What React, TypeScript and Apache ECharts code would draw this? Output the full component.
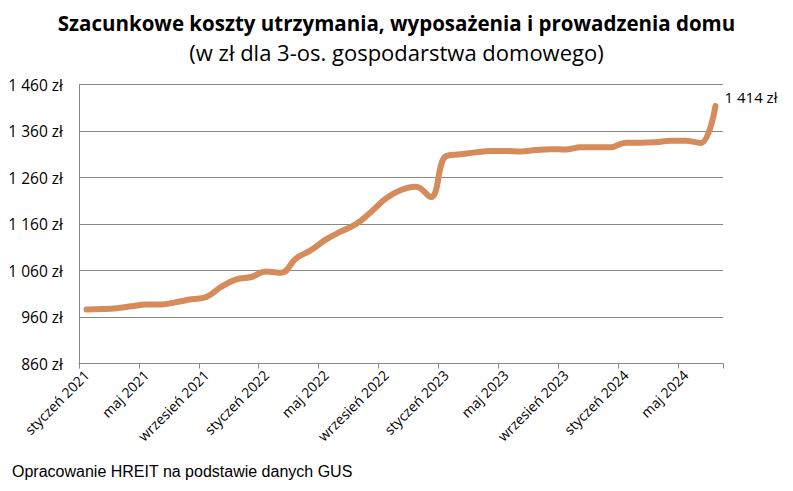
import React, { useEffect, useRef } from "react";
import * as echarts from "echarts";

const months = ["styczeń", "luty", "marzec", "kwiecień", "maj", "czerwiec", "lipiec", "sierpień", "wrzesień", "październik", "listopad", "grudzień"];
const categories: string[] = [];
for (let y = 2021; y <= 2024; y++) {
  for (let m = 0; m < 12; m++) {
    if (y === 2024 && m > 6) break;
    categories.push(`${months[m]} ${y}`);
  }
}

const costValues = [
  976, 977, 979, 983, 987, 987, 992, 998, 1003, 1025, 1041, 1046,
  1058, 1055, 1086, 1104, 1127, 1144, 1160, 1186, 1215, 1233, 1240, 1218,
  1306, 1310, 1314, 1317, 1317, 1316, 1319, 1321, 1320, 1325, 1325, 1325,
  1335, 1335, 1336, 1339, 1339, 1334, 1414,
];

const yMin = 860;
const yMax = 1460;
const yStep = 100;

const fmtZl = (v: number) => {
  const s = Math.round(v).toString().replace(/\B(?=(\d{3})+(?!\d))/g, " ");
  return `${s} zł`;
};

const labelFont = "'Open Sans', 'Noto Sans', sans-serif";

export default function App() {
  const ref = useRef<HTMLDivElement>(null);
  useEffect(() => {
    if (!ref.current) return;
    const chart = echarts.init(ref.current, undefined, { renderer: "svg" });
    chart.setOption({
      animation: false,
      backgroundColor: "#ffffff",
      title: {
        text: "Szacunkowe koszty utrzymania, wyposażenia i prowadzenia domu",
        subtext: "(w zł dla 3-os. gospodarstwa domowego)",
        left: "center",
        top: 7,
        itemGap: 8,
        textStyle: { fontFamily: labelFont, fontWeight: "bold", fontSize: 20.5, color: "#000" },
        subtextStyle: { fontFamily: labelFont, fontSize: 22, color: "#000" },
      },
      grid: { left: 79, right: 70, top: 84.5, bottom: 127.5, containLabel: false },
      xAxis: {
        type: "category",
        data: categories,
        boundaryGap: true,
        axisLine: { show: true, lineStyle: { color: "#888", width: 1 } },
        axisTick: { show: true, interval: 3, length: 5, lineStyle: { color: "#888" } },
        axisLabel: {
          interval: 3,
          rotate: 45,
          margin: 9,
          fontFamily: labelFont,
          fontSize: 14,
          color: "#000",
        },
        splitLine: { show: false },
      },
      yAxis: {
        type: "value",
        min: yMin,
        max: yMax,
        interval: yStep,
        axisLine: { show: true, lineStyle: { color: "#888", width: 1 } },
        axisTick: { show: false },
        axisLabel: {
          margin: 16,
          fontFamily: labelFont,
          fontSize: 15.5,
          color: "#000",
          formatter: (v: number) => fmtZl(v),
        },
        splitLine: { show: true, lineStyle: { color: "#888", width: 1 } },
      },
      series: [
        {
          type: "line",
          smooth: 0.4,
          symbol: "none",
          lineStyle: { color: "#D68B5B", width: 6, cap: "round" },
          endLabel: {
            show: true,
            distance: 9,
            offset: [0, -9],
            formatter: (p: any) => fmtZl(p.value),
            fontFamily: labelFont,
            fontSize: 15,
            color: "#000",
          },
          data: costValues,
        },
      ],
      graphic: [
        {
          type: "text",
          left: 12,
          top: 463,
          style: {
            text: "Opracowanie HREIT na podstawie danych GUS",
            font: "16px 'Liberation Sans', Arial, sans-serif",
            fill: "#000",
          },
        },
      ],
    });
    return () => chart.dispose();
  }, []);
  return <div ref={ref} style={{ width: 793, height: 491, position: "absolute", left: 0, top: 0 }} />;
}
